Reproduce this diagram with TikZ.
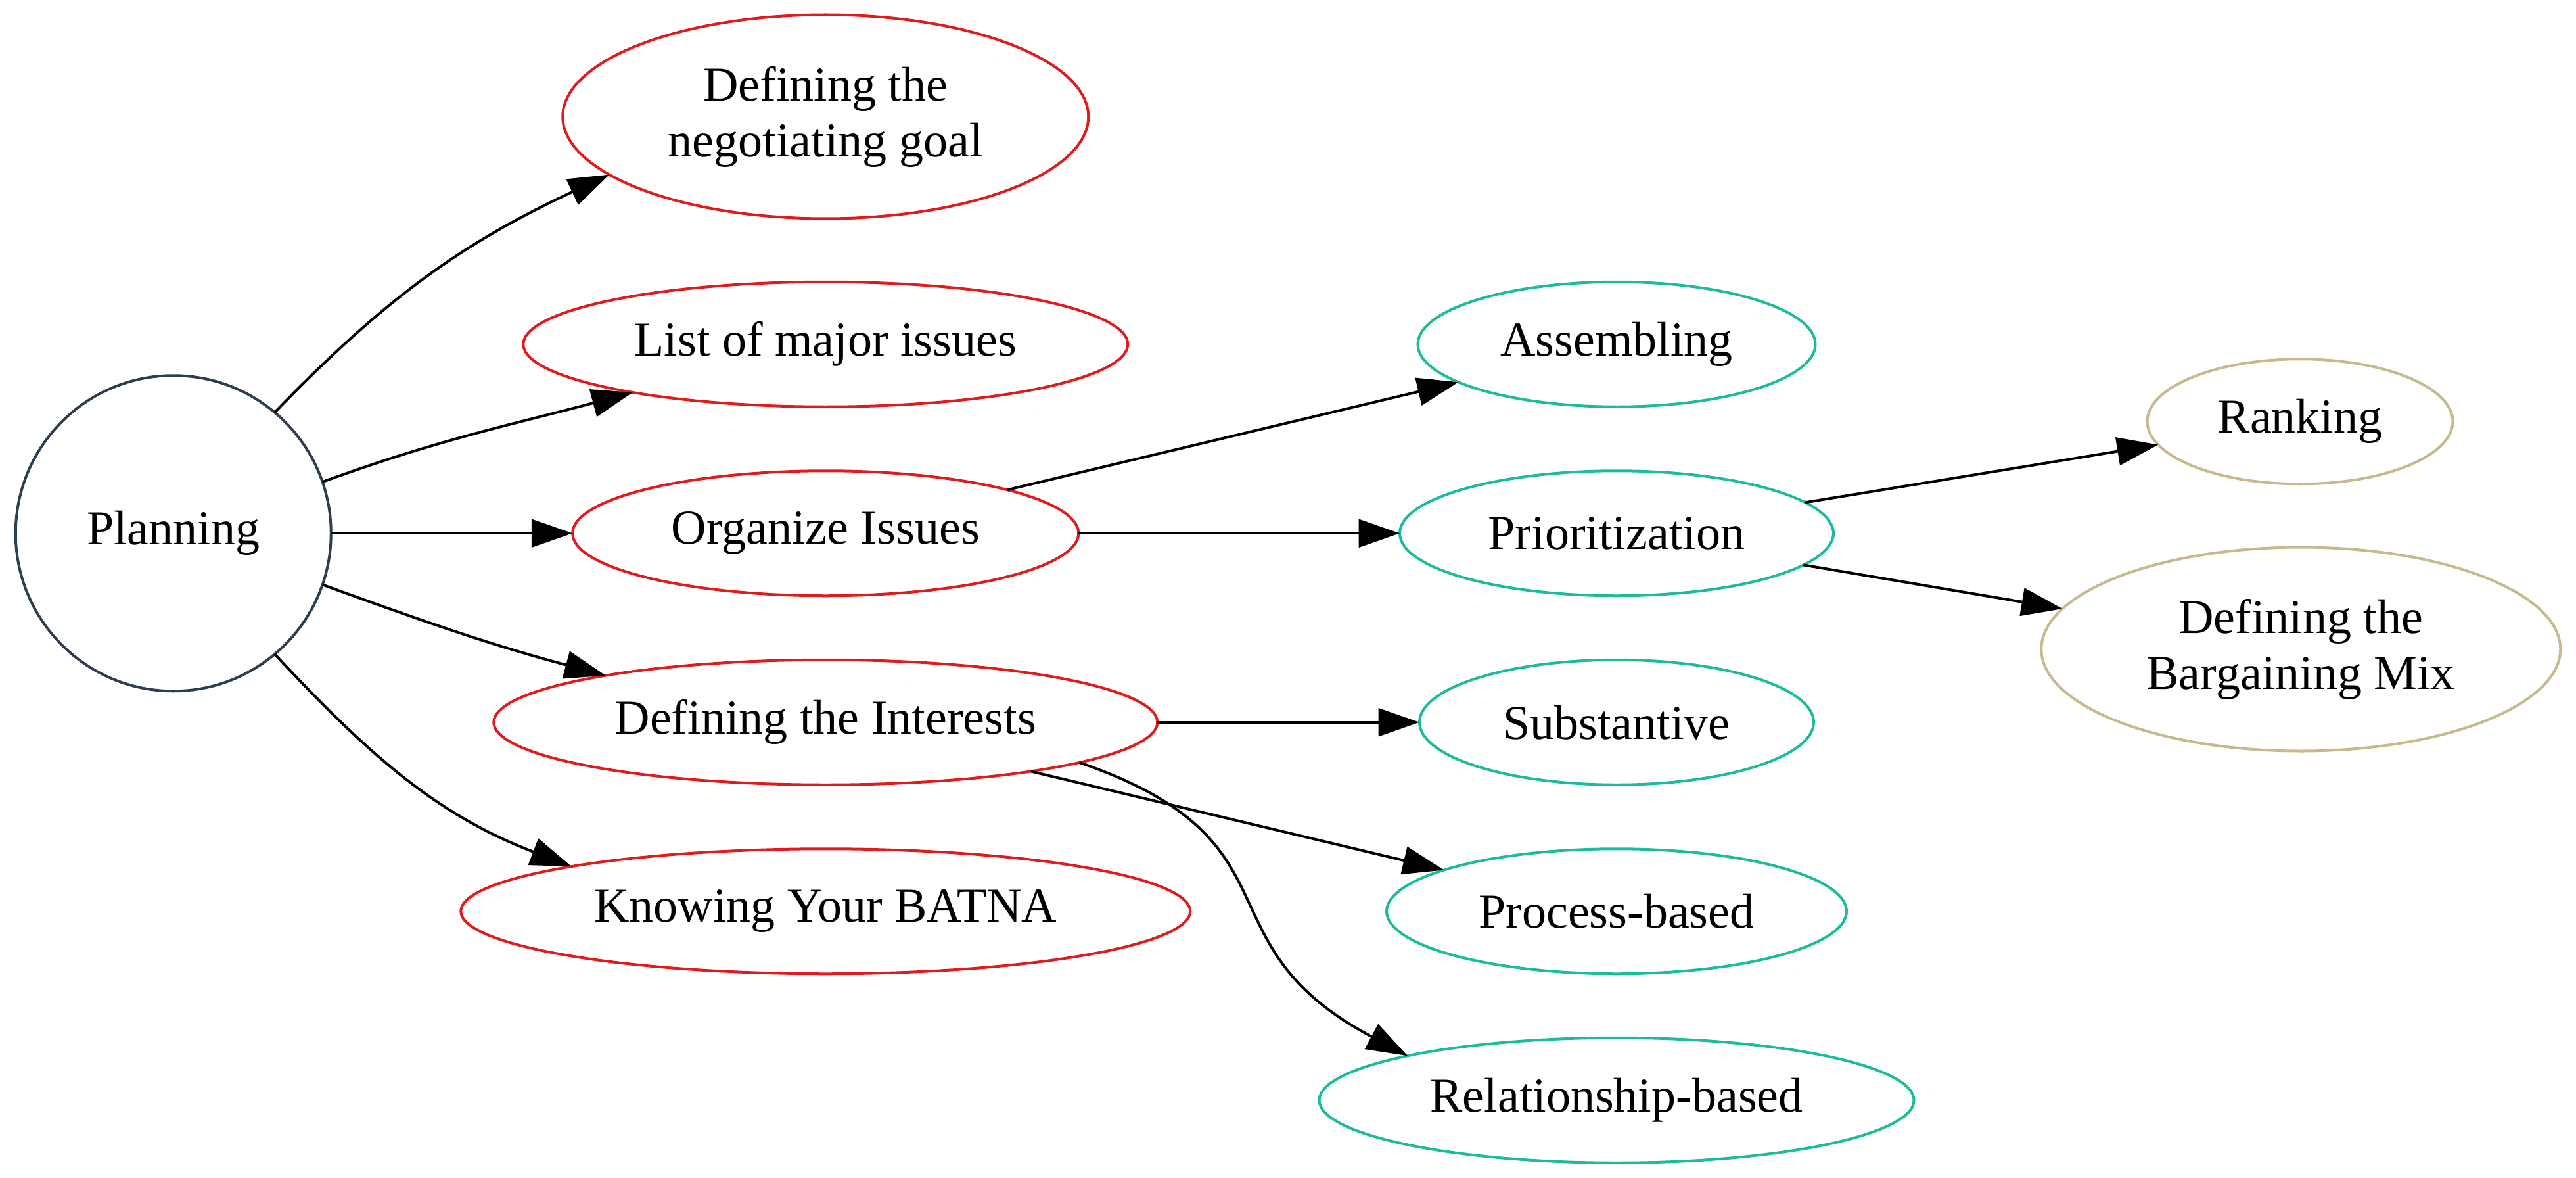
\documentclass[tikz,border=0pt]{standalone}
\usepackage{fontspec}
\setmainfont{Liberation Serif}
\usetikzlibrary{shapes.geometric,arrows.meta}
\definecolor{planblue}{HTML}{2C3E50}
\definecolor{taskred}{HTML}{E31A1C}
\definecolor{subteal}{HTML}{1ABC9C}
\definecolor{mixtan}{HTML}{C8B98C}
\begin{document}
\begin{tikzpicture}[x=0.5pt, y=-0.5pt, font=\fontsize{14.8}{17}\selectfont, line width=0.8pt,
    every node/.style={ellipse, draw, inner sep=0pt, outer sep=0pt, align=center},
    rootnode/.style={circle, draw=planblue, minimum size=96pt},
    redtask/.style={draw=taskred, minimum height=38pt},
    tealtask/.style={draw=subteal, minimum height=38pt},
    tantask/.style={draw=mixtan, minimum height=38pt},
    link/.style={-{Triangle[length=12.5pt, width=8.5pt]}}]
        \useasboundingbox (0,0) rectangle (1568,716.8);
        \node[rootnode] (plan) at (105.5, 324.5) {Planning};
        \node[redtask, minimum width=160pt, minimum height=62pt] (goal) at (502.5, 71) {Defining the\\negotiating goal};
        \node[redtask, minimum width=184pt] (list) at (502.5, 209.5) {List of major issues};
        \node[redtask, minimum width=154pt] (org) at (502.5, 324.5) {Organize Issues};
        \node[redtask, minimum width=202pt] (int) at (502.5, 439.5) {Defining the Interests};
        \node[redtask, minimum width=222pt] (batna) at (502.5, 554.5) {Knowing Your BATNA};
        \node[tealtask, minimum width=121pt] (asm) at (984, 209.5) {Assembling};
        \node[tealtask, minimum width=132pt] (prio) at (984, 324.5) {Prioritization};
        \node[tealtask, minimum width=120pt] (sub) at (984, 439.5) {Substantive};
        \node[tealtask, minimum width=140pt] (proc) at (984, 554.5) {Process-based};
        \node[tealtask, minimum width=181pt] (rel) at (984, 669.5) {Relationship-based};
        \node[tantask, minimum width=93pt] (rank) at (1400, 256.5) {Ranking};
        \node[tantask, minimum width=158pt, minimum height=62pt] (mix) at (1400.5, 395) {Defining the\\Bargaining Mix};
        % planning to its steps
        \draw[link] (plan.50) to[out=46, in=205] (goal.195);
        \draw[link] (plan.19) to[out=20, in=195] (list.194);
        \draw[link] (plan) -- (org);
        \draw[link] (plan.-19) to[out=-20, in=165] (int.168);
        \draw[link] (plan.-50) to[out=-47, in=159] (batna.170);
        % second level
        \draw[link] (org) -- (asm);
        \draw[link] (org) -- (prio);
        \draw[link] (int) -- (sub);
        \draw[link] (int) -- (proc);
        \draw[link] (int.-9) to[out=-19, in=152, looseness=1.4] (rel.168);
        % third level
        \draw[link] (prio) -- (rank);
        \draw[link] (prio) -- (mix);
    \end{tikzpicture}
\end{document}
